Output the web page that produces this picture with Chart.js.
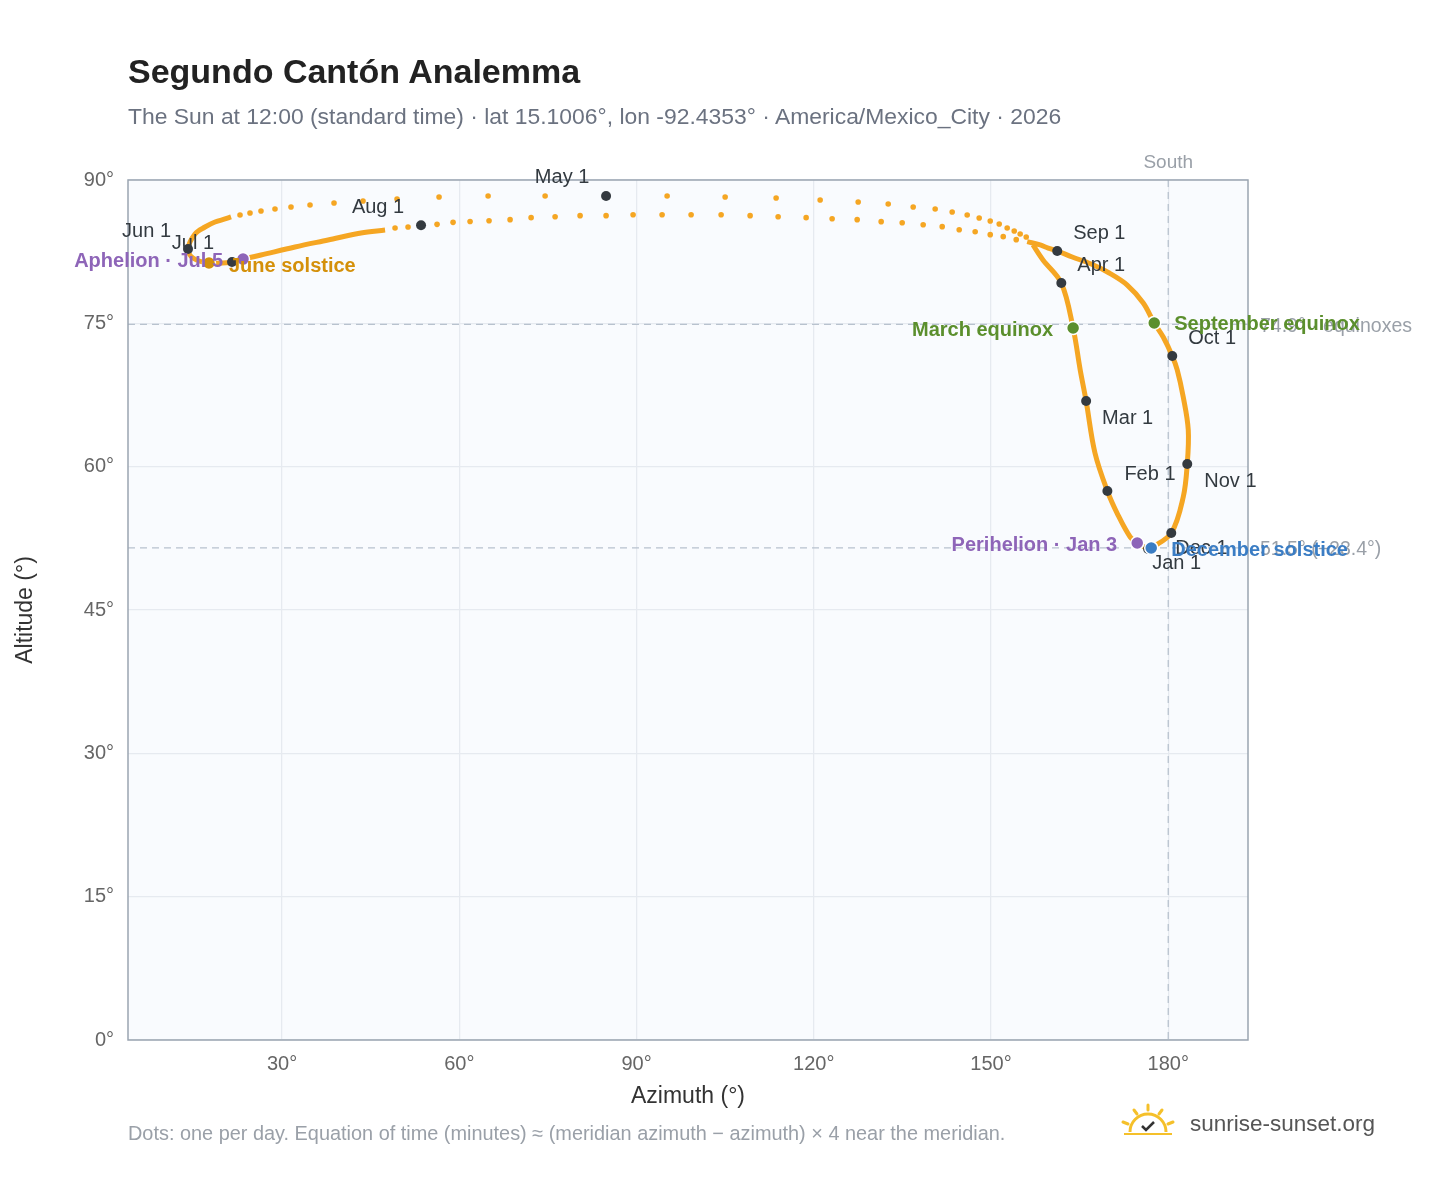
<!DOCTYPE html>
<html><head><meta charset="utf-8">
<script src="https://cdn.jsdelivr.net/npm/chart.js@4"></script>
<style>
body{margin:0;background:#fff;font-family:"Liberation Sans",Arial,sans-serif;}
#wrap{position:relative;width:1448px;height:1188px;}
#c{position:absolute;left:0;top:0;}
.t{position:absolute;white-space:nowrap;}
</style></head><body>
<div id="wrap">
<canvas id="c" width="1448" height="1188"></canvas>
<div class="t" style="left:128px;top:52px;font-size:34px;font-weight:bold;color:#222;">Segundo Cantón Analemma</div>
<div class="t" style="left:128px;top:103px;font-size:22.9px;color:#6b7280;">The Sun at 12:00 (standard time) · lat 15.1006°, lon -92.4353° · America/Mexico_City · 2026</div>
<div class="t" style="left:128px;top:1122px;font-size:19.9px;color:#9aa0a8;">Dots: one per day. Equation of time (minutes) ≈ (meridian azimuth − azimuth) × 4 near the meridian.</div>
<svg class="t" style="left:1120px;top:1102px" width="60" height="36" viewBox="0 0 60 36">
<path d="M10 30 A18 18 0 0 1 46 30" fill="none" stroke="#f5c02a" stroke-width="3"/>
<g stroke="#f5c02a" stroke-width="3" stroke-linecap="round">
<line x1="28" y1="3" x2="28" y2="8"/><line x1="14" y1="8" x2="17" y2="12"/><line x1="42" y1="8" x2="39" y2="12"/>
<line x1="3" y1="20" x2="8" y2="22"/><line x1="53" y1="20" x2="48" y2="22"/></g>
<path d="M22 24 l4 4 l8 -8" fill="none" stroke="#333" stroke-width="2.5"/>
<line x1="4" y1="32" x2="52" y2="32" stroke="#f5c02a" stroke-width="2"/>
</svg>
<div class="t" style="left:1190px;top:1111px;font-size:22.5px;color:#555;">sunrise-sunset.org</div>
</div>
<script>
// Dense (continuous) stretches of the daily path, chronological
const traceJanApr = {az:[176.6,174.75,173.56,171.5,169.7,167.6,166.1,165.1,163.9,161.9,158.8,157.1],
  alt:[51.38,52.01,52.64,54.94,57.45,61.43,66.87,70.12,74.51,79.22,81.63,83.2]};
const traceMayJul = {az:[21.37,20.35,18.66,16.96,15.27,14.09,14.93,17.64,21.54,23.4,26.44,32.2,37.79,43.37,47.44],
  alt:[86.13,85.92,85.6,85.08,84.35,82.78,81.84,81.31,81.41,81.72,82.15,82.99,83.72,84.45,84.76]};
const traceAugJan = {az:[156.13,158.33,159.68,161.21,163.75,166.96,170.01,173.06,175.77,177.63,179.15,180.68,181.52,182.54,183.39,183.22,182.54,180.51,177.12,176.6],
  alt:[83.55,83.2,82.88,82.57,81.94,81.21,80.27,79.01,77.13,75.04,73.57,71.58,70.12,67.29,63.84,60.28,56.83,53.06,51.49,51.38]};
// Separated daily dots near the zenith
const dotsAz = [155.96,154.94,153.93,152.74,151.39,149.87,148.0,145.97,143.43,140.55,136.83,132.6,127.52,121.08,113.63,105.0,95.18,84.85,74.53,64.88,56.58,49.47,43.71,38.8,34.74,31.52,28.81,26.44,24.58,22.89,
  49.13,51.33,53.53,56.24,58.95,61.83,65.04,68.6,72.16,76.22,80.45,84.85,89.42,94.33,99.24,104.32,109.23,113.97,118.71,123.11,127.35,131.41,134.97,138.52,141.74,144.62,147.32,149.87,152.07,154.27];
const dotsAlt = [84.03,84.35,84.66,84.98,85.4,85.71,86.02,86.34,86.65,86.97,87.18,87.49,87.7,87.91,88.12,88.22,88.33,88.33,88.33,88.33,88.22,88.01,87.8,87.59,87.38,87.18,86.97,86.76,86.55,86.34,
  84.98,85.08,85.27,85.36,85.57,85.66,85.74,85.85,86.06,86.16,86.27,86.27,86.37,86.37,86.37,86.37,86.27,86.16,86.06,85.95,85.85,85.64,85.53,85.32,85.12,84.8,84.59,84.28,84.07,83.76];
const monthNames = ["Jan 1","Feb 1","Mar 1","Apr 1","May 1","Jun 1","Jul 1","Aug 1","Sep 1","Oct 1","Nov 1","Dec 1"];
const monthAz = [176.6,169.7,166.1,161.9,84.85,14.09,21.54,53.53,161.21,180.68,183.22,180.51];
const monthAlt = [51.38,57.45,66.87,79.22,88.33,82.78,81.41,85.27,82.57,71.58,60.28,53.06];
const eventNames = ["March equinox","September equinox","June solstice","December solstice","Aphelion · Jul 5","Perihelion · Jan 3"];
const eventAz = [163.9,177.63,17.64,177.12,23.4,174.75];
const eventAlt = [74.51,75.04,81.31,51.49,81.72,52.01];
const eventColors = ["#5b8f2d","#5b8f2d","#d4900a","#3b7dc4","#8e65b8","#8e65b8"];
const refLines = [{alt:74.9,label:"74.9° · equinoxes"},{alt:51.5,label:"51.5° (−23.4°)"}];
const xTicks = [30,60,90,120,150,180];

const pts=(az,alt)=>az.map((a,i)=>({x:a,y:alt[i]}));
const ORANGE="#f5a623";
const FF="'Liberation Sans',Arial";
// label offsets (px) [dx,dy,align]
const monthLab=[[4,14,"left"],[17,-17,"left"],[16,17,"left"],[16,-18,"left"],[-44,-18,"center"],[-17,-18,"right"],[-18,-19,"right"],[-43,-18,"center"],[16,-18,"left"],[16,-18,"left"],[17,17,"left"],[4,16,"left"]];
const eventLab=[[-20,2,"right"],[20,2,"left"],[20,3,"left"],[20,2,"left"],[-20,2,"right"],[-20,2,"right"]];

const deco={id:"deco",
 beforeDatasetsDraw(ch){const {ctx,chartArea:a,scales:{x,y}}=ch;ctx.save();
  ctx.setLineDash([7,5]);ctx.strokeStyle="#b8c2ce";ctx.lineWidth=1.3;
  refLines.forEach(r=>{const py=y.getPixelForValue(r.alt);ctx.beginPath();ctx.moveTo(a.left,py);ctx.lineTo(a.right,py);ctx.stroke();});
  const sx=x.getPixelForValue(180);ctx.beginPath();ctx.moveTo(sx,a.top);ctx.lineTo(sx,a.bottom);ctx.stroke();
  ctx.setLineDash([]);ctx.font="19px "+FF;ctx.fillStyle="#9aa0a8";ctx.textAlign="center";ctx.textBaseline="bottom";
  ctx.fillText("South",sx,a.top-8);
  ctx.textAlign="left";ctx.textBaseline="middle";ctx.font="19.5px "+FF;
  refLines.forEach(r=>ctx.fillText(r.label,a.right+12,y.getPixelForValue(r.alt)+2));
  ctx.restore();},
 beforeDraw(ch){const {ctx,chartArea:a}=ch;ctx.save();ctx.fillStyle="#f9fbfe";ctx.fillRect(a.left,a.top,a.right-a.left,a.bottom-a.top);ctx.restore();},
 afterDatasetsDraw(ch){const {ctx,chartArea:a,scales:{x,y}}=ch;ctx.save();
  ctx.strokeStyle="#9aa5b1";ctx.lineWidth=1.5;ctx.strokeRect(a.left,a.top,a.right-a.left,a.bottom-a.top);
  ctx.textBaseline="middle";ctx.font="20px "+FF;ctx.fillStyle="#333a40";
  monthNames.forEach((n,i)=>{const o=monthLab[i];ctx.textAlign=o[2];ctx.fillText(n,x.getPixelForValue(monthAz[i])+o[0],y.getPixelForValue(monthAlt[i])+o[1]);});
  ctx.font="bold 20px "+FF;
  eventNames.forEach((n,i)=>{const o=eventLab[i];ctx.textAlign=o[2];ctx.fillStyle=eventColors[i];ctx.fillText(n,x.getPixelForValue(eventAz[i])+o[0],y.getPixelForValue(eventAlt[i])+o[1]);});
  ctx.restore();}
};
const lineDs=(t)=>({type:"line",data:pts(t.az,t.alt),borderColor:ORANGE,borderWidth:5,pointRadius:0,tension:0.35,fill:false,order:5});
new Chart(document.getElementById("c"),{
 type:"scatter",
 data:{datasets:[
  lineDs(traceJanApr),lineDs(traceMayJul),lineDs(traceAugJan),
  {data:pts(dotsAz,dotsAlt),backgroundColor:ORANGE,borderWidth:0,pointRadius:2.8,order:4},
  {data:pts(monthAz,monthAlt),backgroundColor:"#343a40",borderWidth:0,pointRadius:5,order:2},
  {data:pts(eventAz,eventAlt),backgroundColor:eventColors,borderColor:"#fff",borderWidth:1.5,pointRadius:6.5,order:1}
 ]},
 options:{responsive:false,animation:false,
  layout:{padding:{top:180,right:200,left:8,bottom:74}},
  plugins:{legend:{display:false},tooltip:{enabled:false}},
  scales:{
   x:{type:"linear",min:3.93,max:193.5,afterBuildTicks:s=>{s.ticks=xTicks.map(v=>({value:v}));},
     afterFit:s=>{s.height=74;},
     grid:{color:"#e6eaf0",lineWidth:1.3,drawTicks:false},border:{display:false},
     ticks:{padding:12,color:"#666",font:{size:20,family:FF},callback:v=>v+"°"},
     title:{display:true,text:"Azimuth (°)",color:"#333",font:{size:23,family:FF},padding:{top:4}}},
   y:{min:0,max:90,afterFit:s=>{s.width=120;},
     grid:{color:"#e6eaf0",lineWidth:1.3,drawTicks:false},border:{display:false},
     ticks:{stepSize:15,padding:14,color:"#666",font:{size:20,family:FF},callback:v=>v+"°"},
     title:{display:true,text:"Altitude (°)",color:"#333",font:{size:23,family:FF}}}
  }},
 plugins:[deco]
});
</script></body></html>
